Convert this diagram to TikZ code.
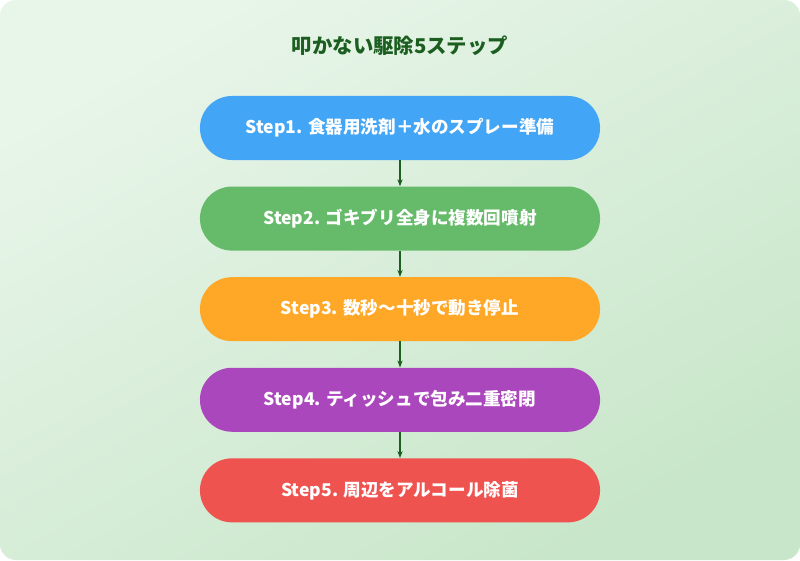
\documentclass[tikz,border=0pt]{standalone}
\usepackage{fontspec}
\setmainfont{Noto Sans CJK JP}
\usetikzlibrary{positioning, arrows.meta}
\definecolor{bgA}{HTML}{E8F5E9}
\definecolor{bgB}{HTML}{C8E6C9}
\definecolor{dgreen}{HTML}{1B5E20}
\definecolor{sblue}{HTML}{42A5F5}
\definecolor{sgreen}{HTML}{66BB6A}
\definecolor{sorange}{HTML}{FFA726}
\definecolor{spurple}{HTML}{AB47BC}
\definecolor{sred}{HTML}{EF5350}
\begin{document}
\begin{tikzpicture}[x=0.025cm, y=-0.025cm,
    stepbox/.style={rounded corners=0.8cm, minimum width=10cm, minimum height=1.6cm,
      text=white, font=\bfseries\fontsize{12.5}{14}\selectfont},
    flow/.style={-{Stealth[length=5pt]}, thick, draw=dgreen}]
  \useasboundingbox (0,0) rectangle (800,560);
  \shade[rounded corners=0.4cm, top color=bgA, bottom color=bgB, shading angle=30] (0,0) rectangle (800,560);
  \node[font=\bfseries\fontsize{14.5}{16}\selectfont, text=dgreen] (title) at (400,46) {叩かない駆除5ステップ};

  \node[stepbox, fill=sblue] (s1) at (400,128) {Step1. 食器用洗剤＋水のスプレー準備};
  \node[stepbox, fill=sgreen, below=0.65cm of s1] (s2) {Step2. ゴキブリ全身に複数回噴射};
  \node[stepbox, fill=sorange, below=0.65cm of s2] (s3) {Step3. 数秒〜十秒で動き停止};
  \node[stepbox, fill=spurple, below=0.65cm of s3] (s4) {Step4. ティッシュで包み二重密閉};
  \node[stepbox, fill=sred, below=0.65cm of s4] (s5) {Step5. 周辺をアルコール除菌};

  \draw[flow] (s1) -- (s2);
  \draw[flow] (s2) -- (s3);
  \draw[flow] (s3) -- (s4);
  \draw[flow] (s4) -- (s5);
\end{tikzpicture}
\end{document}
